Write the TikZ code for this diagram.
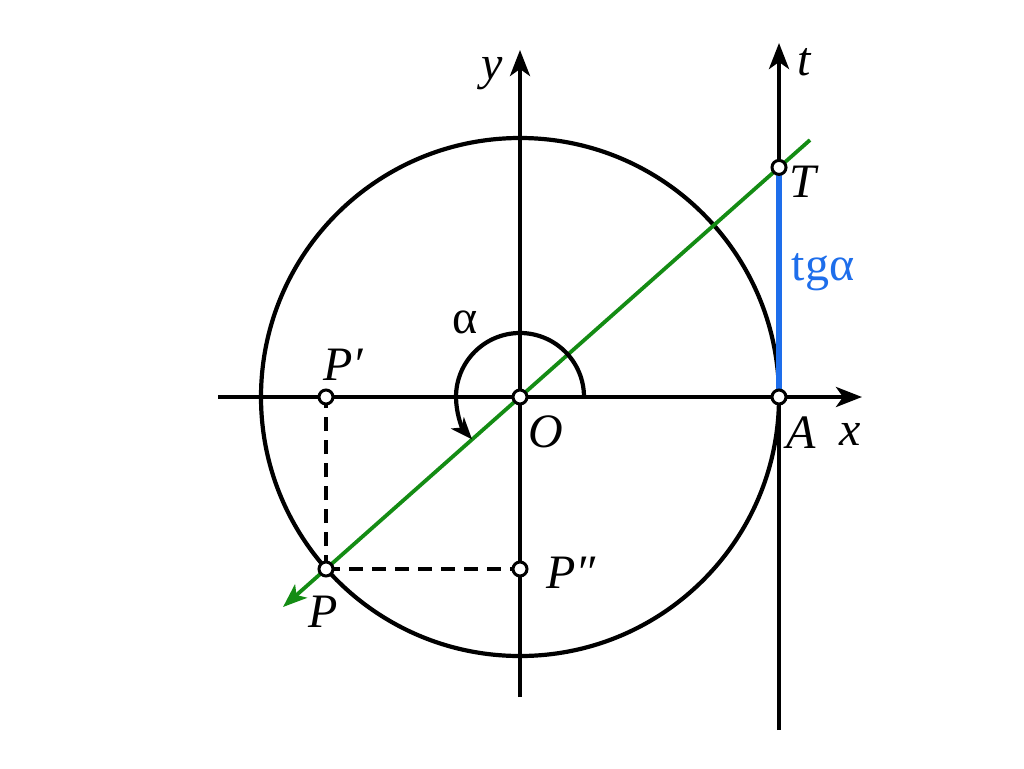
\documentclass[tikz,border=0pt]{standalone}
\usepackage{fontspec}
\setmainfont{Liberation Serif}
\newfontfamily\tms{Liberation Serif}
\usetikzlibrary{arrows.meta,calc}
\definecolor{grn}{RGB}{20,140,20}
\definecolor{blu}{RGB}{30,110,235}
\begin{document}
\begin{tikzpicture}[x=1pt,y=-1pt,
  axis/.style={line width=4.2pt,-{Stealth[length=26pt,width=20pt,inset=7pt]}},
  pt/.style={circle,draw,fill=white,line width=3pt,minimum size=14pt,inner sep=0pt},
  lbl/.style={font=\fontsize{48}{54}\selectfont\tms\itshape,inner sep=0pt},
  ulbl/.style={font=\fontsize{48}{54}\selectfont\tms\upshape,inner sep=0pt},
  dsh/.style={line width=3.6pt,dash pattern=on 14pt off 9pt}]
\useasboundingbox (0,0) rectangle (1024,768);
\coordinate (O) at (520,397);
\coordinate (A) at (779,397);
\coordinate (T) at (779,167.4);
\coordinate (P) at (326,569);
\coordinate (P1) at (326,397);
\coordinate (P2) at (520,569);
\coordinate (xs) at (218,397);
\coordinate (xe) at (862,397);
\coordinate (ys) at (520,697);
\coordinate (ye) at (520,50);
\coordinate (ts) at (779,730);
\coordinate (te) at (779,43);
\coordinate (gs) at (810,140);
\coordinate (ge) at (283,607);
\coordinate (arcS) at (584,397);
% circle
\draw[line width=4.2pt] (O) circle (259);
% axes
\draw[axis] (xs) -- (xe);
\draw[axis] (ys) -- (ye);
\draw[axis] (ts) -- (te);
% dashed
\draw[dsh] (P) -- (P1);
\draw[dsh] (P) -- (P2);
% tangent segment
\draw[blu,line width=5.5pt] (A) -- (T);
% green line
\draw[grn,line width=3.8pt,-{Stealth[length=24pt,width=18pt,inset=6pt]}] (gs) -- (ge);
% angle arc
\draw[line width=4.2pt,-{Stealth[length=22pt,width=17pt,inset=6pt]}] (arcS) arc[start angle=0,end angle=-221.6,radius=64];
% points
\node[pt] (nO) at (O) {};
\node[pt] (nA) at (A) {};
\node[pt] (nT) at (T) {};
\node[pt] (nP) at (P) {};
\node[pt] (nP1) at (P1) {};
\node[pt] (nP2) at (P2) {};
% labels
\node[lbl] (ly) at (492,74) {y};
\node[lbl] (lt) at (804,62) {t};
\node[lbl] (lT) at (803,182) {T};
\node[ulbl,text=blu] (ltg) at (823,272) {tgα};
\node[ulbl] (la) at (465,322) {α};
\node[lbl] (lP1) at (343,365) {P′};
\node[lbl] (lO) at (546,432) {O};
\node[lbl] (lA) at (801,433) {A};
\node[lbl] (lx) at (850,434) {x};
\node[lbl] (lP2) at (571,573) {P″};
\node[lbl] (lP) at (323,612) {P};
\end{tikzpicture}
\end{document}
